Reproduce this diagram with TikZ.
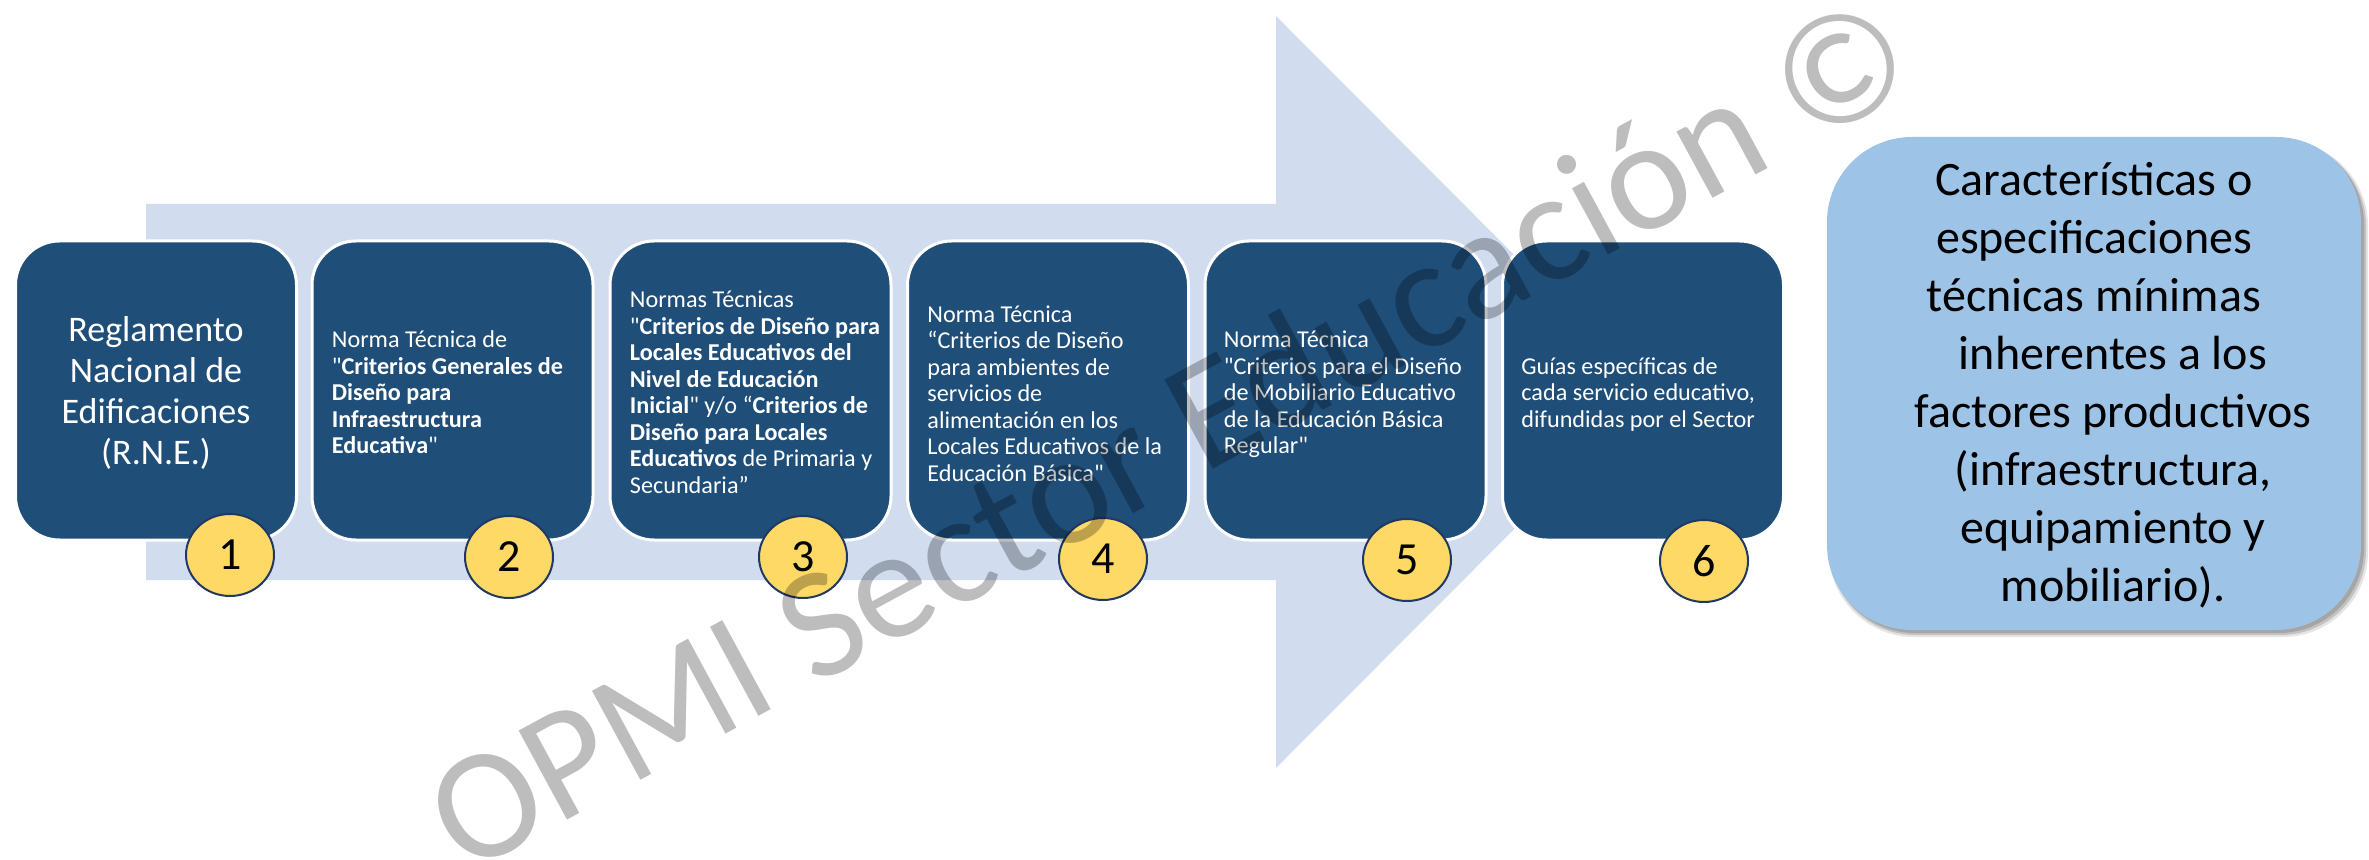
\documentclass[tikz,border=0pt]{standalone}
\usepackage{fontspec}
\setmainfont{Carlito}
\usetikzlibrary{shapes.geometric}
\definecolor{boxblue}{HTML}{1F4E79}
\definecolor{arrowblue}{RGB}{209,221,239}
\definecolor{lightblue}{HTML}{9DC3E6}
\definecolor{circyellow}{HTML}{FFD966}
\definecolor{circedge}{HTML}{1F3864}
\font\sq="Carlito" at 12.1pt
\begin{document}
\begin{tikzpicture}[x=0.5pt,y=-0.5pt,
  stepbox/.style={draw=white, line width=1.5pt, fill=boxblue, rounded corners=22pt,
    minimum width=140.5pt, minimum height=149.5pt, inner sep=0pt},
  num/.style={ellipse, draw=circedge, line width=1pt, fill=circyellow,
    minimum width=44pt, minimum height=41pt, inner sep=0pt,
    font=\fontsize{23}{23}\selectfont},
  boxtxt/.style={text=white, align=left, anchor=west, inner sep=0pt,
    font=\fontsize{12.1}{13.25}\selectfont},
  bigtxt/.style={text=white, align=center, inner sep=0pt,
    font=\fontsize{18}{20.5}\selectfont},
  resbox/.style={fill=lightblue, rounded corners=42.5pt, minimum width=267pt,
    minimum height=246.5pt, inner sep=0pt},
  restxt/.style={align=center, inner sep=0pt, font=\fontsize{24}{29}\selectfont},
  wmark/.style={rotate=28.5, anchor=base west, inner sep=0pt, text=black,
    text opacity=0.26, font=\fontsize{79}{79}\selectfont}
]
\useasboundingbox (0,0) rectangle (2369,860);
\fill[white] (0,0) rectangle (2369,860);

% big arrow
\fill[arrowblue] (146,204) -- (1276,204) -- (1276,16) -- (1651,392)
  -- (1276,768) -- (1276,580) -- (146,580) -- cycle;

% step boxes
\node[stepbox] (b1) at (156,390.5) {};
\node[stepbox] (b2) at (452.5,390.5) {};
\node[stepbox] (b3) at (750.5,390.5) {};
\node[stepbox] (b4) at (1048,390.5) {};
\node[stepbox] (b5) at (1345.5,390.5) {};
\node[stepbox] (b6) at (1643,390.5) {};

% texts
\node[bigtxt] (t1) at ([yshift=-1pt]b1.center) {Reglamento\\Nacional de\\Edificaciones\\(R.N.E.)};
\node[boxtxt] (t2) at ([xshift=10.5pt,yshift=-1pt]b2.west) {Norma Técnica de\\{\sq"}\textbf{Criterios Generales de}\\\textbf{Diseño para}\\\textbf{Infraestructura}\\\textbf{Educativa}{\sq"}};
\node[boxtxt] (t3) at ([xshift=10.5pt,yshift=-1pt]b3.west) {Normas Técnicas\\{\sq"}\textbf{Criterios de Diseño para}\\\textbf{Locales Educativos del}\\\textbf{Nivel de Educación}\\\textbf{Inicial}{\sq"} y/o “\textbf{Criterios de}\\\textbf{Diseño para Locales}\\\textbf{Educativos} de Primaria y\\Secundaria”};
\node[boxtxt] (t4) at ([xshift=10.5pt,yshift=-1.5pt]b4.west) {Norma Técnica\\“Criterios de Diseño\\para ambientes de\\servicios de\\alimentación en los\\Locales Educativos de la\\Educación Básica{\sq"}};
\node[boxtxt] (t5) at ([xshift=10pt,yshift=-2pt]b5.west) {Norma Técnica\\{\sq"}Criterios para el Diseño\\de Mobiliario Educativo\\de la Educación Básica\\Regular{\sq"}};
\node[boxtxt] (t6) at ([xshift=10pt,yshift=-2pt]b6.west) {Guías específicas de\\cada servicio educativo,\\difundidas por el Sector};

% numbers
\node[num] (n1) at (230,555) {1};
\node[num] (n2) at (509,557) {2};
\node[num] (n3) at (803,557) {3};
\node[num] (n4) at (1103,559) {4};
\node[num] (n5) at (1407,560) {5};
\node[num] (n6) at (1704,561) {6};

% result box with shadow
\fill[black, opacity=0.10, rounded corners=42.5pt] (1829,141) rectangle (2368,637);
\fill[black, opacity=0.15, rounded corners=42.5pt] (1830,141) rectangle (2366,635);
\fill[black, opacity=0.15, rounded corners=42.5pt] (1830,140) rectangle (2364,633);
\node[resbox] (r) at (2094,383.5) {};
\node[restxt] (rt) at (2094,385) {Características o\\especificaciones\\técnicas mínimas\\\hspace*{19pt}inherentes a los\\\hspace*{19pt}factores productivos\\\hspace*{19pt}(infraestructura,\\\hspace*{19pt}equipamiento y\\\hspace*{19pt}mobiliario).};

% watermark
\node[wmark] (wm) at (465,876) {OPMI Sector Educación ©};
\end{tikzpicture}
\end{document}
